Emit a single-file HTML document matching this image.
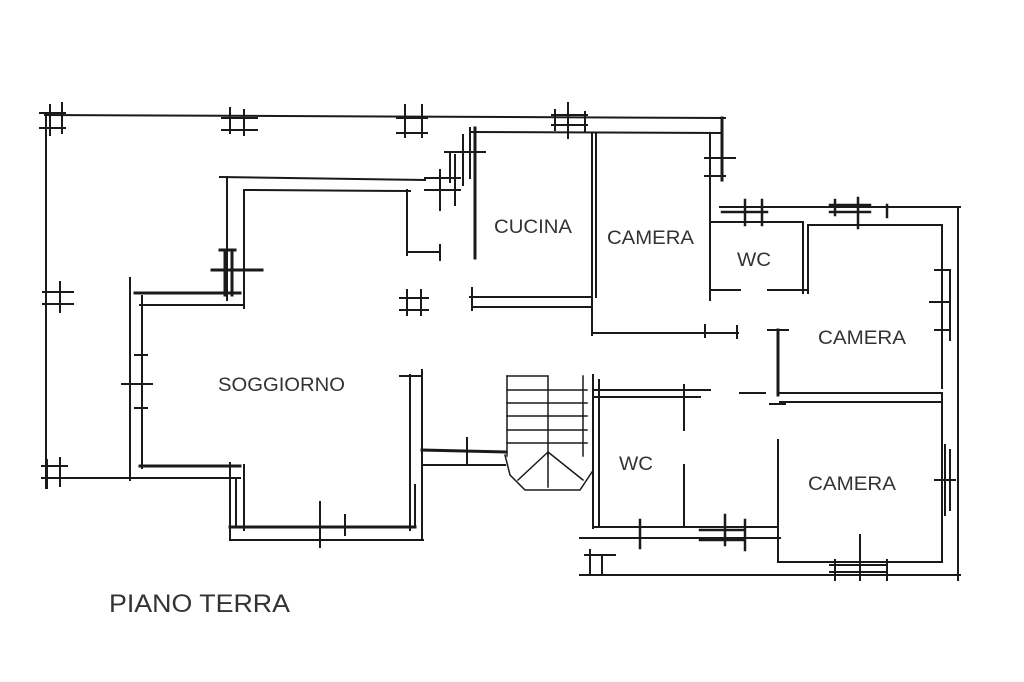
<!DOCTYPE html>
<html><head><meta charset="utf-8"><style>
html,body{margin:0;padding:0;background:#fff;}
svg{display:block;}
text{font-family:"Liberation Sans",sans-serif;fill:#333;}
</style></head><body>
<svg width="1024" height="682" viewBox="0 0 1024 682">
<g stroke="#1a1a1a" stroke-width="2" fill="none" stroke-linecap="square">
<line x1="45" y1="115" x2="725" y2="118"/>
<line x1="46" y1="113" x2="46" y2="488"/>
<line x1="45" y1="478" x2="130" y2="478"/>
<path d="M40 113h25M40 128h25M50 105v30M62 103v30"/>
<path d="M222 118h35M222 130h35M230 108v25M244 110v25"/>
<path d="M397 118h30M397 133h30M405 105v32M422 105v32"/>
<path d="M43 292h30M43 304h30M60 282v30"/>
<path d="M42 466h25M42 478h25M47 460v28M60 458v28"/>
<line x1="220" y1="177" x2="425" y2="180"/>
<line x1="245" y1="190" x2="410" y2="191"/>
<line x1="227" y1="177" x2="227" y2="300"/>
<line x1="244" y1="190" x2="244" y2="308"/>
<path d="M220 250h15M212 270h50M225 250v45M232 250v45" stroke-width="3"/>
<line x1="135" y1="293" x2="240" y2="293" stroke-width="3"/>
<line x1="140" y1="305" x2="244" y2="305"/>
<line x1="130" y1="278" x2="130" y2="480"/>
<line x1="142" y1="296" x2="142" y2="468"/>
<path d="M122 384h30M135 355h12M135 408h12"/>
<line x1="140" y1="466" x2="240" y2="466" stroke-width="3"/>
<line x1="130" y1="478" x2="240" y2="478"/>
<line x1="230" y1="463" x2="230" y2="540"/>
<line x1="244" y1="465" x2="244" y2="530"/>
<line x1="236" y1="480" x2="236" y2="525"/>
<line x1="230" y1="527" x2="415" y2="527" stroke-width="3"/>
<line x1="230" y1="540" x2="423" y2="540"/>
<path d="M320 502v45M345 515v20"/>
<line x1="422" y1="370" x2="422" y2="540"/>
<line x1="410" y1="375" x2="410" y2="530"/>
<line x1="400" y1="376" x2="422" y2="376"/>
<line x1="415" y1="485" x2="415" y2="525"/>
<path d="M400 298h28M400 310h28M407 290v25M421 290v25"/>
<line x1="407" y1="190" x2="407" y2="255"/>
<line x1="407" y1="252" x2="440" y2="252"/>
<line x1="440" y1="245" x2="440" y2="260"/>
<path d="M425 178h35M425 190h35M440 170v40M455 155v50M450 152v30M463 135v50M470 128v50M445 152h40" />
<line x1="475" y1="128" x2="475" y2="258" stroke-width="3"/>
<line x1="470" y1="132" x2="720" y2="133"/>
<line x1="470" y1="297" x2="590" y2="297"/>
<line x1="472" y1="307" x2="592" y2="307"/>
<path d="M472 288v22"/>
<path d="M552 115h35M552 125h35M555 110v20M568 103v35M585 112v20"/>
<line x1="592" y1="133" x2="592" y2="335"/>
<line x1="596" y1="133" x2="596" y2="297"/>
<line x1="592" y1="333" x2="738" y2="333"/>
<path d="M705 325v12M737 326v12"/>
<line x1="710" y1="133" x2="710" y2="300"/>
<line x1="722" y1="118" x2="722" y2="180" stroke-width="3"/>
<path d="M705 158h30M705 176h20"/>
<line x1="720" y1="207" x2="960" y2="207"/>
<path d="M722 212h45M745 200v25M762 200v25M830 205h40M830 212h40M835 200v15M858 198v30M887 205v12" stroke-width="2.5"/>
<line x1="712" y1="222" x2="803" y2="222"/>
<line x1="803" y1="222" x2="803" y2="293"/>
<line x1="808" y1="225" x2="942" y2="225"/>
<line x1="710" y1="290" x2="740" y2="290"/>
<line x1="768" y1="290" x2="808" y2="290"/>
<line x1="808" y1="225" x2="808" y2="293"/>
<line x1="942" y1="225" x2="942" y2="388"/>
<line x1="958" y1="207" x2="958" y2="580"/>
<path d="M950 270v70M930 302h20M935 330h15M935 270h15"/>
<line x1="778" y1="330" x2="778" y2="395" stroke-width="3"/>
<path d="M768 330h20M770 404h15"/>
<line x1="780" y1="393" x2="942" y2="393"/>
<line x1="780" y1="402" x2="942" y2="402"/>
<line x1="740" y1="393" x2="765" y2="393"/>
<line x1="593" y1="375" x2="593" y2="528"/>
<line x1="599" y1="380" x2="599" y2="525"/>
<line x1="593" y1="390" x2="710" y2="390"/>
<line x1="593" y1="397" x2="700" y2="397"/>
<line x1="684" y1="385" x2="684" y2="430"/>
<line x1="684" y1="465" x2="684" y2="527"/>
<line x1="593" y1="527" x2="778" y2="527"/>
<line x1="580" y1="538" x2="780" y2="538"/>
<path d="M700 530h45M700 540h45M725 515v30M745 520v30M640 520v28" stroke-width="2.5"/>
<line x1="778" y1="440" x2="778" y2="560"/>
<line x1="778" y1="562" x2="942" y2="562"/>
<line x1="942" y1="393" x2="942" y2="562"/>
<path d="M950 450v60M935 480h20M945 445v70"/>
<line x1="580" y1="575" x2="960" y2="575"/>
<path d="M585 555h30M590 550v25M602 555v20M830 565h55M830 572h55M860 535v45M835 560v20M887 560v20"/>
<line x1="422" y1="450" x2="505" y2="452" stroke-width="3"/>
<line x1="422" y1="465" x2="505" y2="465"/>
<line x1="467" y1="438" x2="467" y2="465"/>
<g stroke-width="1.5">
<path d="M507 376v80M548 376v80M583 376v80"/>
<path d="M507 376h40M507 390h80M507 403h80M507 416h80M507 430h80M507 443h80"/>
<path d="M505 455l5 20 15 15h55l12-18"/>
<path d="M548 452l-30 28M548 452l35 28M548 452v35"/>
</g>
</g>
<g font-size="19">
<text x="494" y="233" textLength="78" lengthAdjust="spacingAndGlyphs">CUCINA</text>
<text x="607" y="244" textLength="87" lengthAdjust="spacingAndGlyphs">CAMERA</text>
<text x="737" y="266" textLength="34" lengthAdjust="spacingAndGlyphs">WC</text>
<text x="818" y="344" textLength="88" lengthAdjust="spacingAndGlyphs">CAMERA</text>
<text x="218" y="391" textLength="127" lengthAdjust="spacingAndGlyphs">SOGGIORNO</text>
<text x="619" y="470" textLength="34" lengthAdjust="spacingAndGlyphs">WC</text>
<text x="808" y="490" textLength="88" lengthAdjust="spacingAndGlyphs">CAMERA</text>
</g>
<text x="109" y="612" font-size="25" textLength="181" lengthAdjust="spacingAndGlyphs">PIANO TERRA</text>
</svg>
</body></html>
